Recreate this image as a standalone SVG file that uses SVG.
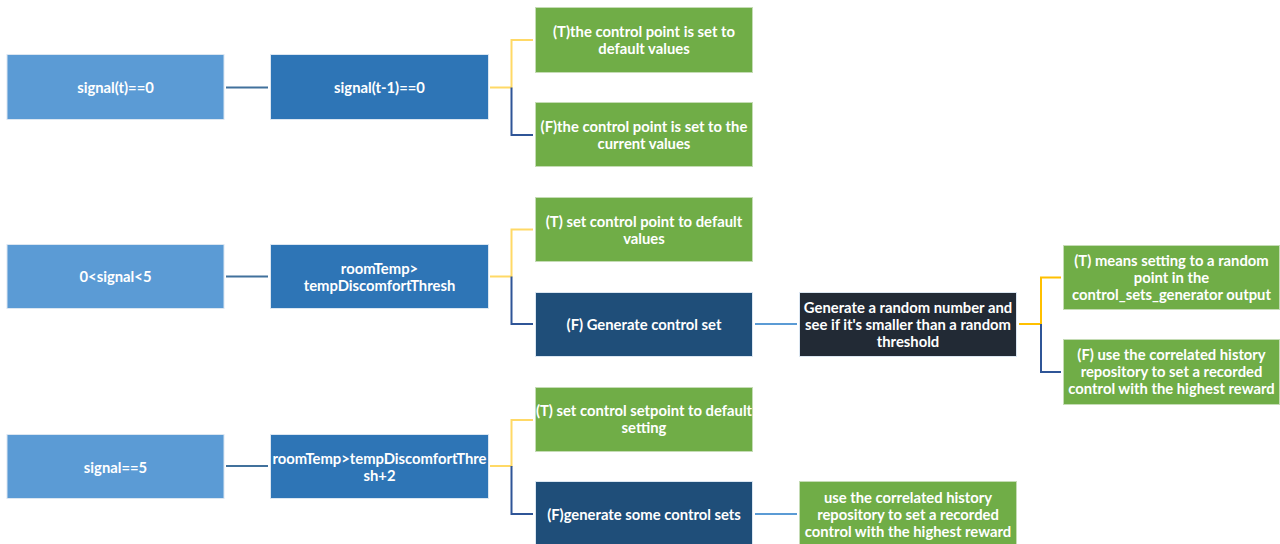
<svg xmlns="http://www.w3.org/2000/svg" width="1280" height="544" viewBox="0 0 1280 544">
  <style>
    text { font-family: Lato, "Open Sans", "Liberation Sans", sans-serif; font-weight: bold; font-size: 14.8px; fill: #ffffff; text-anchor: middle; dominant-baseline: central; }
    .box { stroke: #dbe6f1; stroke-width: 1; }
    .cond { fill: #5b9bd5; }
    .test { fill: #2e75b6; }
    .navy { fill: #1f4e79; }
    .act  { fill: #70ad47; stroke: #c5dcb5; }
    .dark { fill: #222a35; }
    .link { fill: none; stroke-width: 2; }
    .grey { stroke: #41719c; }
    .yel  { stroke: #ffd966; }
    .gold { stroke: #ffc000; }
    .fb   { stroke: #2f5597; }
    .lb   { stroke: #5b9bd5; }
  </style>

  <!-- connectors -->
  <g id="connectors">
    <!-- row 1 -->
    <path class="link grey" d="M226 87.5H268"/>
    <path class="link yel" d="M490 87.5H511.5V40H533"/>
    <path class="link fb" d="M511.5 87.5V135H533"/>
    <!-- row 2 -->
    <path class="link grey" d="M226 276.5H268"/>
    <path class="link yel" d="M490 276.5H511.5V229.5H533"/>
    <path class="link fb" d="M511.5 276.5V324H533"/>
    <path class="link lb" d="M755 324H797"/>
    <path class="link gold" d="M1019 324H1041V277.5H1061"/>
    <path class="link fb" d="M1041 324V372H1061"/>
    <!-- row 3 -->
    <path class="link grey" d="M226 466H268"/>
    <path class="link yel" d="M490 466H511.5V420H533"/>
    <path class="link fb" d="M511.5 466V514H533"/>
    <path class="link lb" d="M755 514H797"/>
  </g>

  <!-- row 1 -->
  <g id="n-signal-t0">
    <rect class="box cond" x="7" y="54.5" width="217" height="65"/>
    <text x="115.5" y="87">signal(t)==0</text>
  </g>
  <g id="n-signal-t1">
    <rect class="box test" x="270.5" y="54.5" width="218" height="65"/>
    <text x="379.5" y="87">signal(t-1)==0</text>
  </g>
  <g id="n-r1-true">
    <rect class="box act" x="535.5" y="7.5" width="217" height="65"/>
    <text x="644" y="31">(T)the control point is set to</text>
    <text x="644" y="48">default values</text>
  </g>
  <g id="n-r1-false">
    <rect class="box act" x="535.5" y="102.5" width="217" height="64"/>
    <text x="644" y="126">(F)the control point is set to the</text>
    <text x="644" y="143">current values</text>
  </g>

  <!-- row 2 -->
  <g id="n-signal-mid">
    <rect class="box cond" x="7" y="244.5" width="217" height="64"/>
    <text x="115.5" y="276">0&lt;signal&lt;5</text>
  </g>
  <g id="n-room-temp">
    <rect class="box test" x="270.5" y="244.5" width="218" height="64"/>
    <text x="379.5" y="268">roomTemp&gt;</text>
    <text x="379.5" y="285">tempDiscomfortThresh</text>
  </g>
  <g id="n-r2-true">
    <rect class="box act" x="535.5" y="197.5" width="217" height="64"/>
    <text x="644" y="221">(T) set control point to default</text>
    <text x="644" y="238">values</text>
  </g>
  <g id="n-r2-false">
    <rect class="box navy" x="535.5" y="292.5" width="217" height="64"/>
    <text x="644" y="324">(F) Generate control set</text>
  </g>
  <g id="n-random">
    <rect class="box dark" x="799.5" y="292.5" width="217" height="64"/>
    <text x="908" y="307">Generate a random number and</text>
    <text x="908" y="324">see if it's smaller than a random</text>
    <text x="908" y="341">threshold</text>
  </g>
  <g id="n-rand-true">
    <rect class="box act" x="1063.5" y="245.5" width="216" height="64"/>
    <text x="1171.5" y="260">(T) means setting to a random</text>
    <text x="1171.5" y="277">point in the</text>
    <text x="1171.5" y="294">control_sets_generator output</text>
  </g>
  <g id="n-rand-false">
    <rect class="box act" x="1063.5" y="339.5" width="216" height="65"/>
    <text x="1171.5" y="354">(F) use the correlated history</text>
    <text x="1171.5" y="371">repository to set a recorded</text>
    <text x="1171.5" y="388">control with the highest reward</text>
  </g>

  <!-- row 3 -->
  <g id="n-signal-5">
    <rect class="box cond" x="7" y="434.5" width="217" height="64"/>
    <text x="115.5" y="467">signal==5</text>
  </g>
  <g id="n-room-temp-2">
    <rect class="box test" x="270.5" y="434.5" width="218" height="64"/>
    <text x="379.5" y="458">roomTemp&gt;tempDiscomfortThre</text>
    <text x="379.5" y="475">sh+2</text>
  </g>
  <g id="n-r3-true">
    <rect class="box act" x="535.5" y="387.5" width="217" height="64"/>
    <text x="644" y="410">(T) set control setpoint to default</text>
    <text x="644" y="427">setting</text>
  </g>
  <g id="n-r3-false">
    <rect class="box navy" x="535.5" y="481.5" width="217" height="64"/>
    <text x="644" y="514">(F)generate some control sets</text>
  </g>
  <g id="n-history">
    <rect class="box act" x="799.5" y="481.5" width="217" height="64"/>
    <text x="908" y="497">use the correlated history</text>
    <text x="908" y="514">repository to set a recorded</text>
    <text x="908" y="531">control with the highest reward</text>
  </g>
</svg>
